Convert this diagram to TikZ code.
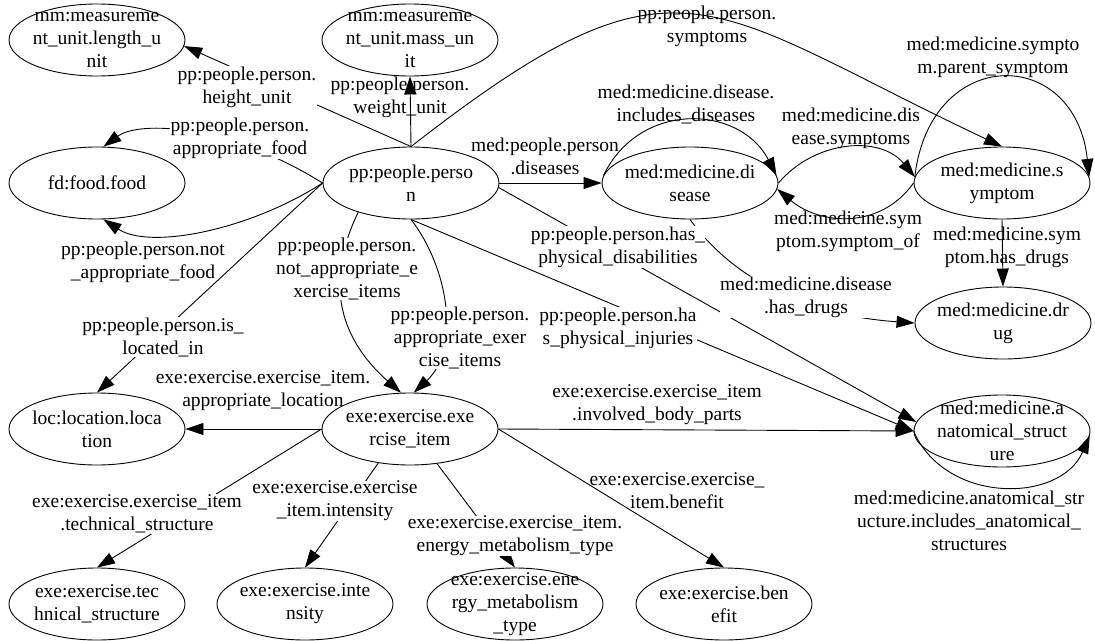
\documentclass[tikz,border=0pt]{standalone}
\usepackage{fontspec}
\setmainfont{Liberation Serif}
\usetikzlibrary{shapes.geometric,arrows.meta}

\begin{document}
\begin{tikzpicture}[x=1pt,y=-1pt,
  every node/.style={font=\fontsize{19.5}{23}\selectfont},
  ent/.style={draw, ellipse, minimum width=176pt, minimum height=72pt, inner sep=0pt, line width=0.9pt},
  enttext/.style={align=center, inner sep=0pt},
  rel/.style={line width=0.9pt, -{Triangle[length=18pt,width=12pt]}},
  lab/.style={align=center, inner sep=0.3pt},
  onedge/.style={lab, fill=white},
]
\useasboundingbox (0,0) rectangle (1095,640);

% entity ellipses
\node[ent] (len) at (97,40) {};
\node[ent] (mass) at (410,40) {};
\node[ent] (food) at (97,183) {};
\node[ent] (person) at (411,183) {};
\node[ent] (disease) at (690,183) {};
\node[ent] (symptom) at (1002,183) {};
\node[ent] (drug) at (1003,323) {};
\node[ent] (loc) at (97,429) {};
\node[ent] (exe) at (410,429) {};
\node[ent] (anat) at (1002,431) {};
\node[ent] (tech) at (97,604) {};
\node[ent] (intens) at (305,604) {};
\node[ent] (energy) at (515,604) {};
\node[ent] (benefit) at (724,604) {};

% entity names
\node[enttext] (len-t) at (len) {mm:measureme\\nt\_unit.length\_u\\nit};
\node[enttext] (mass-t) at (mass) {mm:measureme\\nt\_unit.mass\_un\\it};
\node[enttext] (food-t) at (food) {fd:food.food};
\node[enttext] (person-t) at (person) {pp:people.perso\\n};
\node[enttext] (disease-t) at (disease) {med:medicine.di\\sease};
\node[enttext] (symptom-t) at (symptom) {med:medicine.s\\ymptom};
\node[enttext] (drug-t) at (drug) {med:medicine.dr\\ug};
\node[enttext] (loc-t) at (loc) {loc:location.loca\\tion};
\node[enttext] (exe-t) at (exe) {exe:exercise.exe\\rcise\_item};
\node[enttext] (anat-t) at (anat) {med:medicine.a\\natomical\_struct\\ure};
\node[enttext] (tech-t) at (tech) {exe:exercise.tec\\hnical\_structure};
\node[enttext] (intens-t) at (intens) {exe:exercise.inte\\nsity};
\node[enttext] (energy-t) at (energy) {exe:exercise.ene\\rgy\_metabolism\\\_type};
\node[enttext] (benefit-t) at (benefit) {exe:exercise.ben\\efit};

% relations of the person
\draw[rel] (person.north) -- (len.-4);
\draw[rel] (person.north) -- (mass.south);
\draw[rel] (person.north) .. controls (680,-63) and (702,5) .. (symptom.north);
\draw[rel] (person.east) -- (disease.west);
\draw[rel] (person.west) .. controls (230,125) and (140,120) .. (food.80);
\draw[rel] (person.west) .. controls (250,230) and (150,250) .. (food.-80);
\draw[rel] (person.west) -- (loc.north);
\draw[rel] (person.-151) .. controls (330,270) and (330,330) .. (exe.104);
\draw[rel] (person.south) .. controls (450,270) and (460,350) .. (exe.84);
\draw[rel] (person.-3) -- (anat.174);
\draw[rel] (person.south) -- (anat.west);

% medical relations
\draw[rel] (disease.south) .. controls (730,275) and (800,315) .. (drug.west);
\draw[rel] (disease.east) .. controls (815,140) and (880,135) .. (symptom.176);
\draw[rel] (symptom.west) .. controls (880,230) and (820,225) .. (disease.-4);
\draw[rel] (disease.175) .. controls (640,100) and (740,105) .. (disease.5);
\draw[rel] (symptom.176) .. controls (930,45) and (1075,45) .. (symptom.4);
\draw[rel] (symptom.south) -- (drug.north);
\draw[rel] (anat.west) .. controls (945,504) and (1060,504) .. (anat.-3);

% exercise item relations
\draw[rel] (exe.west) -- (loc.east);
\draw[rel] (exe.east) -- (anat.west);
\draw[rel] (exe.west) -- (tech.north);
\draw[rel] (exe.-133) -- (intens.north);
\draw[rel] (exe.-52) -- (energy.north);
\draw[rel] (exe.east) -- (benefit.north);

% relation labels
\node[onedge] (l-height) at (247,87) {pp:people.person.\\height\_unit};
\node[lab] (l-weight) at (400,97) {pp:people.person.\\weight\_unit};
\node[lab] (l-symptoms) at (707,26) {pp:people.person.\\symptoms};
\node[lab] (l-diseases) at (545,156) {med:people.person\\.diseases};
\node[lab] (l-incdis) at (686,104) {med:medicine.disease.\\includes\_diseases};
\node[lab] (l-dissym) at (851,128) {med:medicine.dis\\ease.symptoms};
\node[lab] (l-parent) at (993,57) {med:medicine.sympto\\m.parent\_symptom};
\node[lab] (l-symof) at (848,231) {med:medicine.sym\\ptom.symptom\_of};
\node[lab] (l-symdrug) at (1007,247) {med:medicine.sym\\ptom.has\_drugs};
\node[onedge] (l-disdrug) at (806,297) {med:medicine.disease\\.has\_drugs};
\node[onedge] (l-appfood) at (240,138) {pp:people.person.\\appropriate\_food};
\node[lab] (l-notfood) at (143,262) {pp:people.person.not\\\_appropriate\_food};
\node[onedge] (l-located) at (163,337) {pp:people.person.is\_\\located\_in};
\node[onedge] (l-notex) at (347,269) {pp:people.person.\\not\_appropriate\_e\\xercise\_items};
\node[onedge] (l-appex) at (460,338) {pp:people.person.\\appropriate\_exer\\cise\_items};
\node[onedge] (l-disab) at (618,247) {pp:people.person.has\_\\physical\_disabilities};
\node[onedge] (l-injur) at (618,328) {pp:people.person.ha\\s\_physical\_injuries};
\node[lab] (l-location) at (263,391) {exe:exercise.exercise\_item.\\appropriate\_location};
\node[lab] (l-body) at (657,405) {exe:exercise.exercise\_item\\.involved\_body\_parts};
\node[onedge] (l-tech) at (137,514) {exe:exercise.exercise\_item\\.technical\_structure};
\node[onedge] (l-intens) at (335,501) {exe:exercise.exercise\\\_item.intensity};
\node[onedge] (l-energy) at (515,536) {exe:exercise.exercise\_item.\\energy\_metabolism\_type};
\node[lab] (l-benefit) at (677,491) {exe:exercise.exercise\_\\item.benefit};
\node[lab] (l-incanat) at (969,521) {med:medicine.anatomical\_str\\ucture.includes\_anatomical\_\\structures};
\end{tikzpicture}
\end{document}
